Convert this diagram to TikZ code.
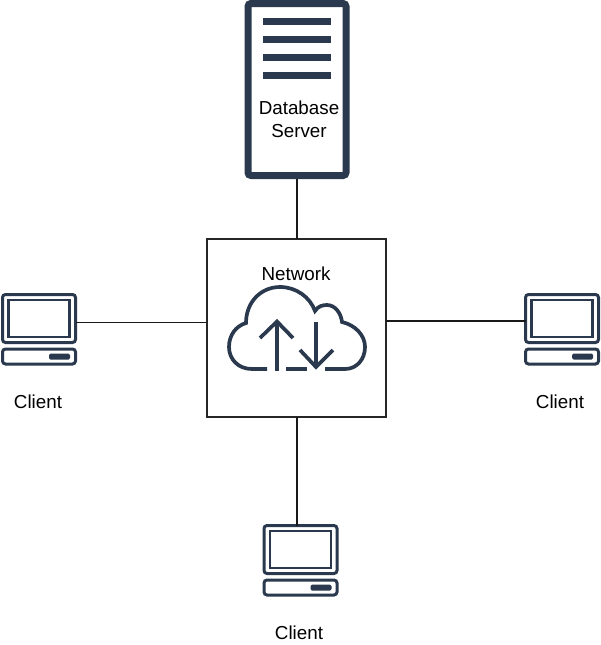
\documentclass[tikz,border=0pt]{standalone}
\usepackage{fontspec}
\setmainfont{Liberation Sans}
\definecolor{icon}{HTML}{2A394D}
\tikzset{
	label/.style={font=\fontsize{18.8}{23}\selectfont,inner sep=0pt,align=center},
	link/.style={line width=1.3pt,color=black!90},
	serverbox/.style={draw=icon,line width=7pt,rounded corners=3pt,minimum width=98pt,minimum height=172pt,inner sep=0pt,outer sep=3.5pt},
	bar/.style={fill=icon,draw=none,minimum width=68pt,minimum height=7pt,inner sep=0pt},
	netbox/.style={draw=black!85,line width=1.2pt,minimum width=179pt,minimum height=178pt,inner sep=0pt,outer sep=0pt},
	casing/.style={draw=icon,line width=3pt,rounded corners=3pt,inner sep=0pt,outer sep=0pt,minimum width=73pt},
	screen/.style={draw=icon,line width=2.6pt,inner sep=0pt,minimum width=61pt,minimum height=37pt},
	slot/.style={fill=icon,rounded corners=1.5pt,inner sep=0pt,minimum width=21pt,minimum height=6pt},
	cloudline/.style={draw=icon,line width=3.7pt}
}
\begin{document}
\begin{tikzpicture}[x=1pt,y=-1pt]
	\useasboundingbox (0,0) rectangle (600,645);
	% server
	\node[serverbox] (server) at (297,89.5) {};
	\foreach \y in {21.5,39.5,57.5,75.5}
		\node[bar] at (297,\y) {};
	\node[label] (serverlabel) at (299,119) {Database\\Server};
	% network
	\node[netbox] (network) at (296.5,328) {};
	\node[label] (networklabel) at (296,273.5) {Network};
	\draw[cloudline] (267,369) -- (252,369)
		.. controls (238,369) and (229,359) .. (229,347)
		.. controls (229,335) and (236,326) .. (246,323)
		.. controls (246,302) and (261,287) .. (280,287)
		.. controls (296,287) and (310,297) .. (315,311)
		.. controls (318,306) and (323,305) .. (327,305)
		.. controls (335,305) and (341,313) .. (342,322)
		.. controls (355,325) and (365,335) .. (365,347)
		.. controls (365,359) and (357,369) .. (345,369)
		-- (325,369);
	\draw[cloudline] (286,369) -- (307,369);
	\draw[cloudline] (277,371) -- (277,322);
	\draw[cloudline] (260,338) -- (277,321.5) -- (293,338);
	\draw[cloudline] (316,322) -- (316,367);
	\draw[cloudline] (300,350) -- (316,367) -- (333,350);
	% clients
	\foreach \name/\x/\y/\lx/\ly in {clientl/39/318.5/38/402,clientr/562/318.5/560/402,clientb/300.5/549.5/299/633}{
		\node[casing,minimum height=48pt] (\name) at (\x,\y) {};
		\node[screen] at (\x,\y) {};
		\node[casing,minimum height=15pt] at (\x,\y+38) {};
		\node[slot] at (\x+20.5,\y+38) {};
		\node[label] (\name label) at (\lx,\ly) {Client};
	}
	\coordinate (portl) at (clientl.east |- 0,322.5);
	\coordinate (portr) at (clientr.west |- 0,321);
	% links
	\draw[link] (server.south) -- (server.south |- network.north);
	\draw[link] (server.south |- network.south) -- (server.south |- clientb.north);
	\draw[link] (portl) -- (portl -| network.west);
	\draw[link] (portr -| network.east) -- (portr);
\end{tikzpicture}
\end{document}
